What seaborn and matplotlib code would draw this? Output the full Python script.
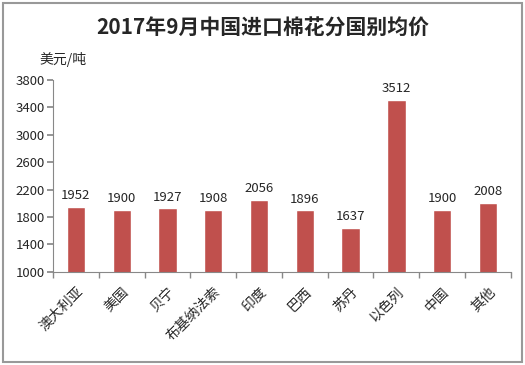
import matplotlib
matplotlib.use("Agg")
import matplotlib.pyplot as plt
import seaborn as sns
import pandas as pd
from matplotlib.patches import Rectangle

sns.set_theme(style="white")
plt.rcParams['font.family'] = ['Noto Sans CJK SC', 'DejaVu Sans']

# Data
countries = ["澳大利亚", "美国", "贝宁", "布基纳法索", "印度", "巴西", "苏丹", "以色列", "中国", "其他"]
prices = [1952, 1900, 1927, 1908, 2056, 1896, 1637, 3512, 1900, 2008]
yticks = [1000, 1400, 1800, 2200, 2600, 3000, 3400, 3800]

df = pd.DataFrame({"country": countries, "price": prices})

fig = plt.figure(figsize=(5.25, 3.65), dpi=100)
ax = fig.add_axes([0.101, 0.255, 0.872, 0.526])

sns.barplot(data=df, x="country", y="price", color="#C0504D", saturation=1,
            width=0.4, ax=ax)
ax.set_ylim(1000, 3800)
ax.set_yticks(yticks)
ax.set_xlim(-0.5, len(countries) - 0.5)

for i, v in enumerate(prices):
    ax.text(i, v + 70, str(v), ha="center", va="bottom", fontsize=9.5)

# axes styling
for s in ["top", "right"]:
    ax.spines[s].set_visible(False)
for s in ["left", "bottom"]:
    ax.spines[s].set_color("#888888")
    ax.spines[s].set_linewidth(0.8)
ax.tick_params(axis="y", direction="out", length=4, color="#888888", labelsize=9.5, left=True, pad=2)
ax.set_xticks(range(len(countries)))
ax.set_xticklabels(countries, rotation=45, ha="right", rotation_mode="anchor", fontsize=10)
ax.tick_params(axis="x", length=0, pad=9)
# category boundary ticks
ax.set_xticks([i - 0.5 for i in range(len(countries) + 1)], minor=True)
ax.tick_params(axis="x", which="minor", direction="out", length=4, color="#888888", bottom=True)
ax.set_xlabel("")
ax.set_ylabel("")

fig.text(0.5, 0.922, "2017年9月中国进口棉花分国别均价", ha="center", va="center",
         fontsize=15, fontweight="bold")
fig.text(0.075, 0.838, "美元/吨", ha="left", va="center", fontsize=10)

# border
fig.patches.append(Rectangle((0.006, 0.008), 0.988, 0.984, transform=fig.transFigure,
                             facecolor="none", edgecolor="#999999", linewidth=1.5, zorder=0))

fig.savefig("out.png", dpi=100)
